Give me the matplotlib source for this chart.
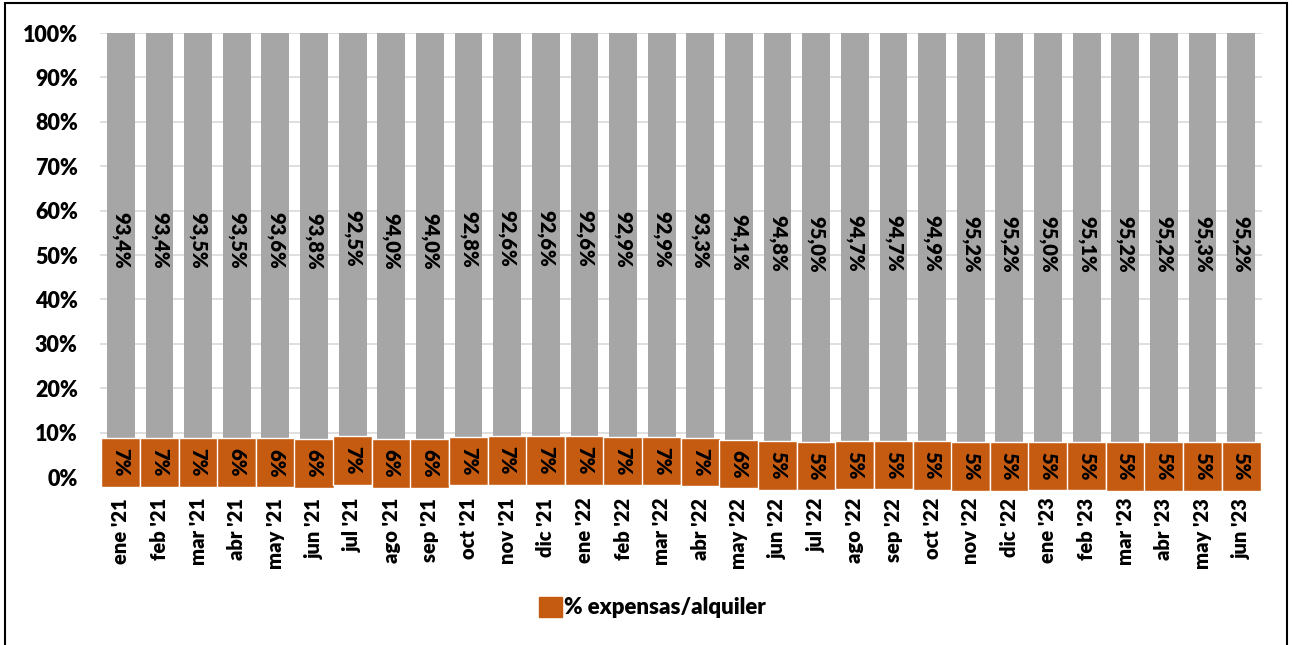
import matplotlib
matplotlib.use("Agg")
import matplotlib.pyplot as plt
from matplotlib.patches import Rectangle, Patch
from matplotlib.ticker import FuncFormatter

plt.rcParams['font.family'] = ['Lato', 'DejaVu Sans']
plt.rcParams['font.weight'] = 'bold'

# monthly share of expenses vs rent
months = ["ene '21", "feb '21", "mar '21", "abr '21", "may '21", "jun '21", "jul '21",
          "ago '21", "sep '21", "oct '21", "nov '21", "dic '21", "ene '22", "feb '22",
          "mar '22", "abr '22", "may '22", "jun '22", "jul '22", "ago '22", "sep '22",
          "oct '22", "nov '22", "dic '22", "ene '23", "feb '23", "mar '23", "abr '23",
          "may '23", "jun '23"]
expensas = [6.6, 6.6, 6.52, 6.48, 6.4, 6.2, 7.48, 6.0, 6.0, 7.2, 7.4, 7.4, 7.4, 7.1,
            7.1, 6.7, 5.9, 5.2, 5.0, 5.3, 5.3, 5.1, 4.8, 4.8, 5.0, 4.9, 4.8, 4.8, 4.7, 4.8]
alquiler = [93.4, 93.4, 93.5, 93.5, 93.6, 93.8, 92.5, 94.0, 94.0, 92.8, 92.6, 92.6,
            92.6, 92.9, 92.9, 93.3, 94.1, 94.8, 95.0, 94.7, 94.7, 94.9, 95.2, 95.2,
            95.0, 95.1, 95.2, 95.2, 95.3, 95.2]

orange = '#c55a11'
gray = '#a6a6a6'

fig = plt.figure(figsize=(12.92, 6.45), dpi=100)
ax = fig.add_axes([100 / 1292, 1 - 477 / 645, 1162 / 1292, 444 / 645])

x = list(range(len(months)))
ax.bar(x, expensas, width=0.72, color=orange, zorder=2)
ax.bar(x, alquiler, width=0.72, bottom=expensas, color=gray, zorder=2)

for i in x:
    ax.text(i, expensas[i] + alquiler[i] / 2, f"{alquiler[i]:.1f}%".replace('.', ','),
            rotation=270, ha='center', va='center', fontsize=14.5, fontweight='heavy',
            zorder=3)
    ax.text(i, expensas[i] / 2, f"{expensas[i]:.0f}%", rotation=270,
            ha='center', va='center', fontsize=14.5, fontweight='heavy', zorder=4,
            bbox=dict(boxstyle='square,pad=0.5', fc=orange, ec='white', lw=1))

ax.set_xlim(-0.54, len(months) - 0.46)
ax.set_ylim(0, 100)
ax.set_yticks(range(0, 101, 10))
ax.yaxis.set_major_formatter(FuncFormatter(lambda v, p: f"{v:.0f}%"))
ax.set_xticks(x)
ax.set_xticklabels(months, rotation=90, fontsize=14.5, fontweight='heavy')
ax.tick_params(axis='x', length=0, pad=15)
ax.tick_params(axis='y', length=0, pad=16, labelsize=15.5)
for lab in ax.get_yticklabels():
    lab.set_fontweight('heavy')
ax.grid(axis='y', color='#d9d9d9', lw=1.2, zorder=0)
ax.set_axisbelow(True)
for s in ax.spines.values():
    s.set_visible(False)

fig.legend(handles=[Patch(fc=orange, ec=orange)], labels=['% expensas/alquiler'],
           loc='center', bbox_to_anchor=(0.505, 0.058), frameon=False,
           prop={'size': 16, 'weight': 'heavy'}, handlelength=1.0, handleheight=1.0,
           handletextpad=0.1)

fig.patches.append(Rectangle((5 / 1292, -0.01), 1282 / 1292, 1 - 3 / 645 + 0.01,
                             transform=fig.transFigure, fill=False, ec='black', lw=1.5))

fig.savefig('out.png', dpi=100)
